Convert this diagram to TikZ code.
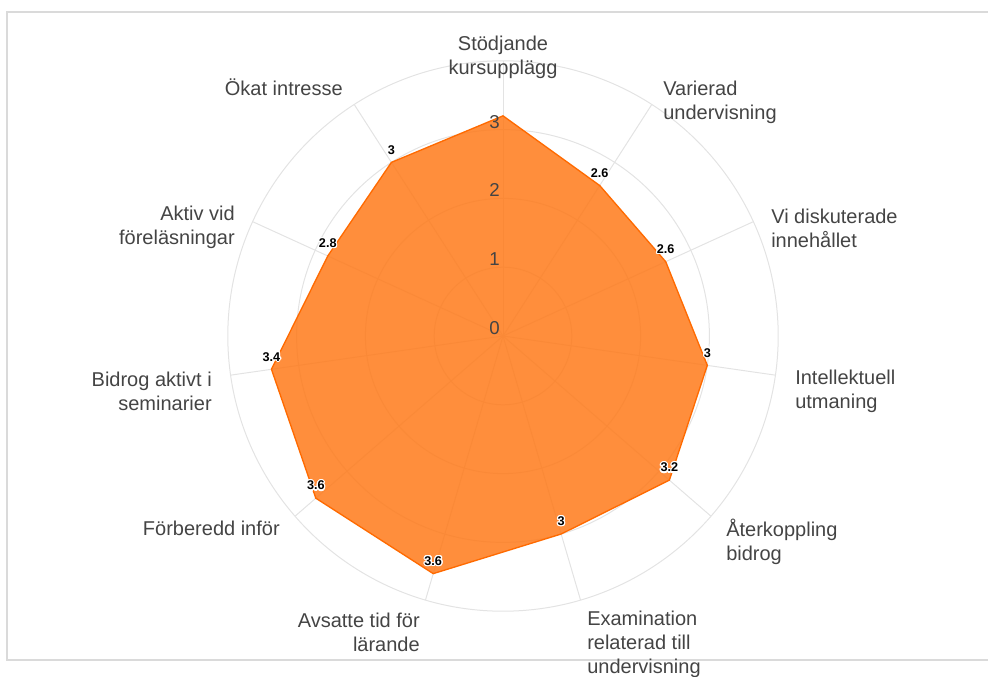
\documentclass[tikz,border=0pt]{standalone}
\usepackage{fontspec}
\setmainfont{Liberation Sans}
\usepackage{contour}
\contourlength{0.9pt}
\definecolor{gridc}{HTML}{E3E3E3}
\definecolor{framec}{HTML}{DADADA}
\definecolor{txt}{HTML}{444444}
\definecolor{fillc}{HTML}{FF7A1A}
\definecolor{edgec}{HTML}{FF6A00}
\begin{document}
\begin{tikzpicture}[x=0.75pt,y=-0.75pt,
 axlab/.style={text=txt,font=\fontsize{15pt}{18pt}\selectfont,inner sep=0pt},
 ticklab/.style={text=txt,font=\fontsize{14pt}{16pt}\selectfont,inner sep=0pt,anchor=east},
 dlab/.style={font=\fontsize{9.5pt}{11pt}\selectfont\bfseries,inner sep=0pt,anchor=south,yshift=5pt},
 gridline/.style={draw=gridc,line width=0.75pt},
 area/.style={fill=fillc,fill opacity=0.85,draw=edgec,line width=1pt,line join=miter}]
\useasboundingbox (0,0) rectangle (988,677);
\draw[framec,line width=1.5pt] (988,12) -- (7,12) -- (7,660) -- (988,660);
\coordinate (c) at (503,336);
\foreach \k in {1,...,4} \draw[gridline] (c) circle[radius={51.6pt*\k}];
\foreach \i in {0,...,10} {
  \coordinate (e\i) at ({503+275.2*sin(\i*360/11)},{336-275.2*cos(\i*360/11)});
  \draw[gridline] (c) -- (e\i);
}
\foreach \i/\v in {0/3.2,1/2.6,2/2.6,3/3,4/3.2,5/3,6/3.6,7/3.6,8/3.4,9/2.8,10/3} {
  \coordinate (v\i) at ({503+68.8*\v*sin(\i*360/11)},{336-68.8*\v*cos(\i*360/11)});
}
\draw[area] (v0) -- (v1) -- (v2) -- (v3) -- (v4) -- (v5) -- (v6) -- (v7) -- (v8) -- (v9) -- (v10) -- cycle;
\node[ticklab] (t0) at (500,328) {0};
\node[ticklab] (t1) at (500,259) {1};
\node[ticklab] (t2) at (500,190) {2};
\node[ticklab] (t3) at (500,122) {3};
\foreach \i/\v in {1/2.6,2/2.6,3/3,4/3.2,5/3,6/3.6,7/3.6,8/3.4,9/2.8,10/3} {
  \node[dlab] (d\i) at (v\i) {\contour{white}{\v}};
}
\node[axlab,align=center] (l0) at (503,57) {Stödjande\\kursupplägg};
\node[axlab,align=left,anchor=west] (l1) at (663,102) {Varierad\\undervisning};
\node[axlab,align=left,anchor=west] (l2) at (771,228) {Vi diskuterade\\innehållet};
\node[axlab,align=left,anchor=west] (l3) at (795,391) {Intellektuell\\utmaning};
\node[axlab,align=left,anchor=west] (l4) at (726,542) {Återkoppling\\bidrog};
\node[axlab,align=left,anchor=west] (l5) at (587,644) {Examination\\relaterad till\\undervisning};
\node[axlab,align=right,anchor=east] (l6) at (420,632) {Avsatte tid för\\lärande};
\node[axlab,anchor=east] (l7) at (280,528) {Förberedd inför};
\node[axlab,align=right,anchor=east] (l8) at (212,391) {Bidrog aktivt i\\seminarier};
\node[axlab,align=right,anchor=east] (l9) at (235,227) {Aktiv vid\\föreläsningar};
\node[axlab,anchor=east] (l10) at (343,87) {Ökat intresse};
\end{tikzpicture}
\end{document}
